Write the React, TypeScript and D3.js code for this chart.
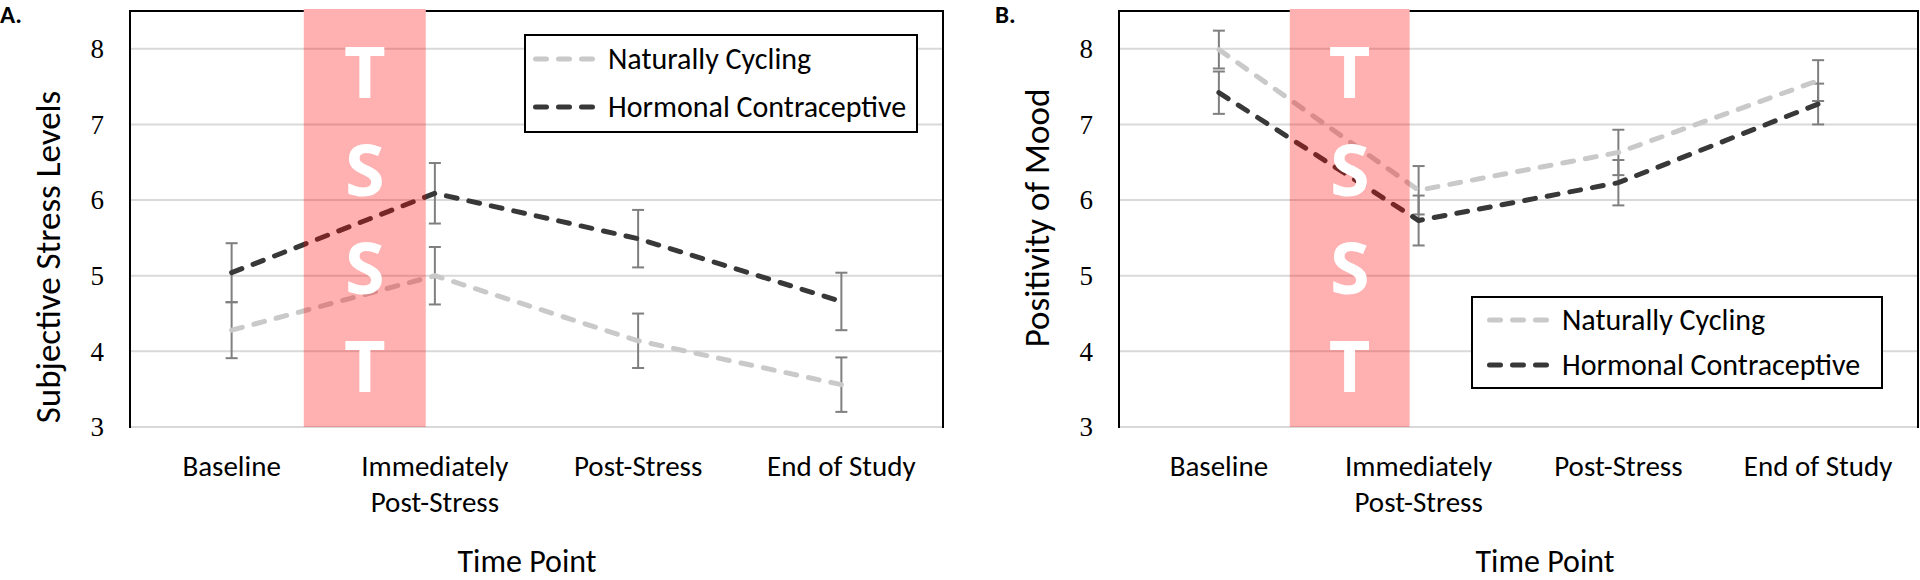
import React from "react";
import * as d3 from "d3";

// ---------- data ----------
const categories = ["Baseline", "Immediately Post-Stress", "Post-Stress", "End of Study"];
const categoryLines = [["Baseline"], ["Immediately", "Post-Stress"], ["Post-Stress"], ["End of Study"]];
const yTicks = [3, 4, 5, 6, 7, 8];
const seriesNames = ["Naturally Cycling", "Hormonal Contraceptive"];
const stressLetters = ["T", "S", "S", "T"];

const stressNC = [4.28, 5.0, 4.14, 3.56];
const stressNCErr = [0.37, 0.38, 0.36, 0.36];
const stressHC = [5.04, 6.09, 5.49, 4.66];
const stressHCErr = [0.39, 0.4, 0.38, 0.38];

const moodNC = [7.99, 6.13, 6.63, 7.58];
const moodNCErr = [0.25, 0.32, 0.3, 0.27];
const moodHC = [7.42, 5.73, 6.23, 7.27];
const moodHCErr = [0.28, 0.33, 0.3, 0.27];

// ---------- style ----------
const SANS = "Carlito, Lato, 'Open Sans', sans-serif";
const SERIF = "'Liberation Serif', 'DejaVu Serif', serif";
const NC_COLOR = "#c9c9c9";
const HC_COLOR = "#383838";
const ERR_COLOR = "#7f7f7f";
const GRID_COLOR = "#d9d9d9";
const DASH = "11 12";

type PanelCfg = {
  tag: string;
  tagX: number;
  yTitle: string;
  yTitleCenter: number;
  xTitleX: number;
  left: number;
  right: number;
  nc: number[];
  ncErr: number[];
  hc: number[];
  hcErr: number[];
  legend: { x: number; y: number; w: number; h: number; padX: number; rows: number[] };
};

const panels: PanelCfg[] = [
  {
    tag: "A.",
    tagX: 0,
    yTitle: "Subjective Stress Levels",
    yTitleCenter: 257,
    xTitleX: 527,
    left: 130,
    right: 943,
    nc: stressNC,
    ncErr: stressNCErr,
    hc: stressHC,
    hcErr: stressHCErr,
    legend: { x: 525, y: 35, w: 392, h: 97, padX: 8, rows: [24, 72] },
  },
  {
    tag: "B.",
    tagX: 995,
    yTitle: "Positivity of Mood",
    yTitleCenter: 218,
    xTitleX: 1545,
    left: 1119,
    right: 1918,
    nc: moodNC,
    ncErr: moodNCErr,
    hc: moodHC,
    hcErr: moodHCErr,
    legend: { x: 1472, y: 297, w: 410, h: 91, padX: 15, rows: [23, 68] },
  },
];

const TOP = 11;
const BOTTOM = 427;

function Panel({ p }: { p: PanelCfg }) {
  const x = d3.scalePoint<string>().domain(categories).range([p.left, p.right]).padding(0.5);
  const step = x.step();
  const y = d3.scaleLinear().domain([3, 8.5]).range([BOTTOM, TOP]);
  const cx = (i: number) => x(categories[i]) as number;
  const line = d3
    .line<number>()
    .x((_, i) => cx(i))
    .y((d) => y(d));

  const bandX0 = cx(0) + 0.355 * step;
  const bandX1 = cx(1) - 0.045 * step;
  const bandTop = TOP - 2;
  const letterY = d3
    .scalePoint<number>()
    .domain(stressLetters.map((_, i) => i))
    .range([bandTop + 63, BOTTOM - 61]);

  const series = [
    { name: seriesNames[0], vals: p.nc, err: p.ncErr, color: NC_COLOR },
    { name: seriesNames[1], vals: p.hc, err: p.hcErr, color: HC_COLOR },
  ];

  const L = p.legend;

  return (
    <g>
      {/* panel tag */}
      <text x={p.tagX} y={23} fontFamily={SANS} fontWeight="bold" fontSize={25} fill="#000">
        {p.tag}
      </text>

      {/* gridlines */}
      {yTicks.map((t) => (
        <line key={t} x1={p.left} x2={p.right} y1={y(t)} y2={y(t)} stroke={GRID_COLOR} strokeWidth={2} />
      ))}

      {/* frame: left, right, top (top broken by the stress band) */}
      <line x1={p.left} x2={p.left} y1={TOP} y2={BOTTOM + 1} stroke="#000" strokeWidth={2} />
      <line x1={p.right} x2={p.right} y1={TOP} y2={BOTTOM + 1} stroke="#000" strokeWidth={2} />
      <line x1={p.left - 1} x2={bandX0} y1={TOP} y2={TOP} stroke="#000" strokeWidth={2} />
      <line x1={bandX1} x2={p.right + 1} y1={TOP} y2={TOP} stroke="#000" strokeWidth={2} />

      {/* y tick labels */}
      {yTicks.map((t) => (
        <text
          key={t}
          x={p.left - 26}
          y={y(t)}
          dy="0.34em"
          textAnchor="end"
          fontFamily={SERIF}
          fontSize={27}
          fill="#000"
        >
          {t}
        </text>
      ))}

      {/* y title */}
      <text
        transform={`translate(${p.left - 70},${p.yTitleCenter}) rotate(-90)`}
        textAnchor="middle"
        fontFamily={SANS}
        fontSize={35}
        fill="#000"
      >
        {p.yTitle}
      </text>

      {/* x tick labels */}
      {categoryLines.map((lines, i) => (
        <text key={i} textAnchor="middle" fontFamily={SANS} fontSize={29} fill="#000">
          {lines.map((s, j) => (
            <tspan key={j} x={cx(i)} y={476 + j * 36}>
              {s}
            </tspan>
          ))}
        </text>
      ))}

      {/* x title */}
      <text x={p.xTitleX} y={572} textAnchor="middle" fontFamily={SANS} fontSize={32} fill="#000">
        Time Point
      </text>

      {/* error bars */}
      {series.map((s) =>
        s.vals.map((v, i) => (
          <g key={s.name + i} stroke={ERR_COLOR} strokeWidth={2}>
            <line x1={cx(i)} x2={cx(i)} y1={y(v + s.err[i])} y2={y(v - s.err[i])} />
            <line x1={cx(i) - 6} x2={cx(i) + 6} y1={y(v + s.err[i])} y2={y(v + s.err[i])} />
            <line x1={cx(i) - 6} x2={cx(i) + 6} y1={y(v - s.err[i])} y2={y(v - s.err[i])} />
          </g>
        ))
      )}

      {/* lines */}
      {series.map((s) => (
        <path
          key={s.name}
          d={line(s.vals) || ""}
          fill="none"
          stroke={s.color}
          strokeWidth={5}
          strokeDasharray={DASH}
          strokeLinecap="round"
        />
      ))}

      {/* stress band */}
      <rect x={bandX0} y={bandTop} width={bandX1 - bandX0} height={BOTTOM - bandTop} fill="rgba(255,0,0,0.31)" />
      {stressLetters.map((c, i) => (
        <text
          key={i}
          x={(bandX0 + bandX1) / 2}
          y={(letterY(i) as number) + 26}
          textAnchor="middle"
          fontFamily="'Open Sans', Lato, sans-serif"
          fontWeight="bold"
          fontSize={72}
          fill="#fff"
        >
          {c}
        </text>
      ))}

      {/* legend */}
      <rect x={L.x} y={L.y} width={L.w} height={L.h} fill="#fff" stroke="#000" strokeWidth={2} />
      {series.map((s, i) => (
        <g key={s.name}>
          <line
            x1={L.x + L.padX + 2.5}
            x2={L.x + L.padX + 59.5}
            y1={L.y + L.rows[i]}
            y2={L.y + L.rows[i]}
            stroke={s.color}
            strokeWidth={5}
            strokeDasharray={DASH}
            strokeLinecap="round"
          />
          <text x={L.x + L.padX + 75} y={L.y + L.rows[i] + 10} fontFamily={SANS} fontSize={30} fill="#000">
            {s.name}
          </text>
        </g>
      ))}
    </g>
  );
}

export default function App() {
  return (
    <svg
      width={1920}
      height={580}
      viewBox="0 0 1920 580"
      style={{ position: "absolute", left: 0, top: 0, background: "#fff" }}
    >
      <rect x={0} y={0} width={1920} height={580} fill="#fff" />
      {panels.map((p) => (
        <Panel key={p.tag} p={p} />
      ))}
    </svg>
  );
}
